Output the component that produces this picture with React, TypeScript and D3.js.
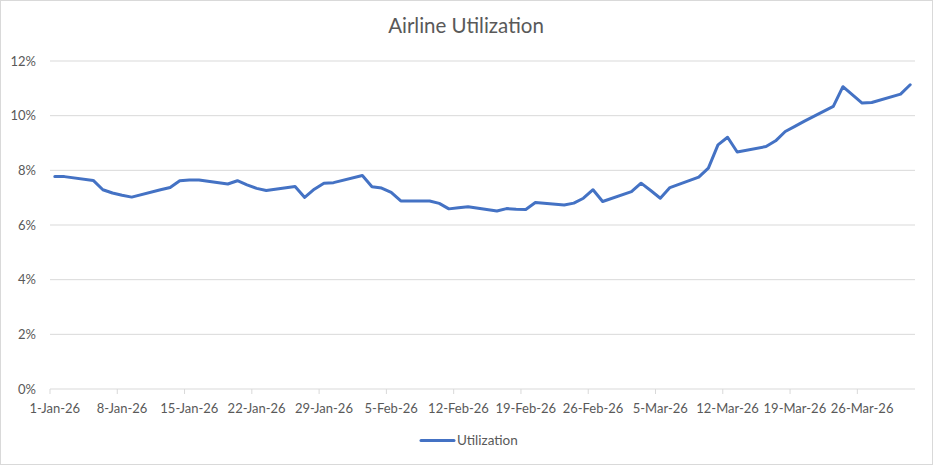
import { useEffect, useRef } from "react";
import * as d3 from "d3";

// weekday readings, Jan–Mar 2026
const DATES = [
  "2026-01-01", "2026-01-02",
  "2026-01-05", "2026-01-06", "2026-01-07", "2026-01-08", "2026-01-09",
  "2026-01-12", "2026-01-13", "2026-01-14", "2026-01-15", "2026-01-16",
  "2026-01-19", "2026-01-20", "2026-01-21", "2026-01-22", "2026-01-23",
  "2026-01-26", "2026-01-27", "2026-01-28", "2026-01-29", "2026-01-30",
  "2026-02-02", "2026-02-03", "2026-02-04", "2026-02-05", "2026-02-06",
  "2026-02-09", "2026-02-10", "2026-02-11", "2026-02-12", "2026-02-13",
  "2026-02-16", "2026-02-17", "2026-02-18", "2026-02-19", "2026-02-20",
  "2026-02-23", "2026-02-24", "2026-02-25", "2026-02-26", "2026-02-27",
  "2026-03-02", "2026-03-03", "2026-03-04", "2026-03-05", "2026-03-06",
  "2026-03-09", "2026-03-10", "2026-03-11", "2026-03-12", "2026-03-13",
  "2026-03-16", "2026-03-17", "2026-03-18", "2026-03-19", "2026-03-20",
  "2026-03-23", "2026-03-24", "2026-03-25", "2026-03-26", "2026-03-27",
  "2026-03-30", "2026-03-31",
];

const UTILIZATION = [
  7.77, 7.77,
  7.63, 7.29, 7.17, 7.09, 7.02,
  7.29, 7.37, 7.62, 7.65, 7.65,
  7.50, 7.62, 7.47, 7.34, 7.26,
  7.41, 7.01, 7.31, 7.53, 7.55,
  7.81, 7.40, 7.35, 7.19, 6.88,
  6.88, 6.79, 6.59, 6.63, 6.67,
  6.51, 6.60, 6.58, 6.57, 6.82,
  6.73, 6.80, 6.98, 7.29, 6.86,
  7.22, 7.53, 7.26, 6.98, 7.37,
  7.75, 8.08, 8.93, 9.21, 8.67,
  8.87, 9.08, 9.42, 9.61, 9.80,
  10.34, 11.06, 10.76, 10.46, 10.48,
  10.79, 11.13,
];

const Y_TICKS = [0, 2, 4, 6, 8, 10, 12];
const SERIES_NAME = "Utilization";
const TITLE = "Airline Utilization";

const FONT = "Lato, 'Open Sans', sans-serif";
const TEXT = "#595959";
const GRID = "#d9d9d9";
const LINE = "#4472C4";

export default function App() {
  const ref = useRef<SVGSVGElement>(null);

  useEffect(() => {
    if (!ref.current) return;
    const W = 936;
    const H = 466;
    const left = 50;
    const right = 915;
    const top = 61;
    const bottom = 389;

    const parse = d3.utcParse("%Y-%m-%d");
    const data = DATES.map((d, i) => ({ date: parse(d)!, value: UTILIZATION[i] }));

    const start = parse("2026-01-01")!;
    const end = parse("2026-04-01")!;
    const x = d3.scaleUtc().domain([start, end]).range([left, right]);
    const mid = (d: Date) => x(d3.utcHour.offset(d, 12));
    const y = d3.scaleLinear().domain([0, 12]).range([bottom, top]);

    const svg = d3.select(ref.current);
    svg.selectAll("*").remove();
    svg.attr("width", W).attr("height", H).attr("viewBox", `0 0 ${W} ${H}`);

    svg.append("rect")
      .attr("x", 0.5).attr("y", 0.5)
      .attr("width", W - 4).attr("height", H - 2)
      .attr("fill", "#fff")
      .attr("stroke", GRID);

    svg.append("text")
      .attr("x", 466).attr("y", 33)
      .attr("text-anchor", "middle")
      .attr("font-family", FONT).attr("font-size", 20.5)
      .attr("fill", TEXT)
      .text(TITLE);

    // gridlines + y labels
    const yAxis = svg.append("g");
    yAxis.selectAll("line")
      .data(Y_TICKS)
      .join("line")
      .attr("x1", left).attr("x2", right)
      .attr("y1", (d) => y(d)).attr("y2", (d) => y(d))
      .attr("stroke", GRID).attr("stroke-width", 1);
    yAxis.selectAll("text")
      .data(Y_TICKS)
      .join("text")
      .attr("x", 36).attr("y", (d) => y(d))
      .attr("dy", "0.35em")
      .attr("text-anchor", "end")
      .attr("font-family", FONT).attr("font-size", 13)
      .attr("fill", TEXT)
      .text((d) => `${d}%`);

    // x axis: date axis, points between tick marks
    const ticks = d3.utcThursday.range(start, end);
    const fmt = d3.utcFormat("%-d-%b-%y");
    const xAxis = svg.append("g");
    xAxis.selectAll("line")
      .data(ticks)
      .join("line")
      .attr("x1", (d) => x(d)).attr("x2", (d) => x(d))
      .attr("y1", bottom).attr("y2", bottom + 5)
      .attr("stroke", GRID);
    xAxis.selectAll("text")
      .data(ticks)
      .join("text")
      .attr("x", (d) => mid(d)).attr("y", bottom + 24)
      .attr("text-anchor", "middle")
      .attr("font-family", FONT).attr("font-size", 13)
      .attr("fill", TEXT)
      .text((d) => fmt(d));

    const line = d3.line<{ date: Date; value: number }>()
      .x((d) => mid(d.date))
      .y((d) => y(d.value));

    svg.append("path")
      .datum(data)
      .attr("d", line)
      .attr("fill", "none")
      .attr("stroke", LINE)
      .attr("stroke-width", 3)
      .attr("stroke-linejoin", "round")
      .attr("stroke-linecap", "round");

    // legend
    const lg = svg.append("g");
    lg.append("line")
      .attr("x1", 421).attr("x2", 454)
      .attr("y1", 440.5).attr("y2", 440.5)
      .attr("stroke", LINE).attr("stroke-width", 3)
      .attr("stroke-linecap", "round");
    lg.append("text")
      .attr("x", 457).attr("y", 440.5)
      .attr("dy", "0.35em")
      .attr("font-family", FONT).attr("font-size", 13.5)
      .attr("fill", TEXT)
      .text(SERIES_NAME);
  }, []);

  return <svg ref={ref} style={{ position: "absolute", left: 0, top: 0, display: "block" }} />;
}
